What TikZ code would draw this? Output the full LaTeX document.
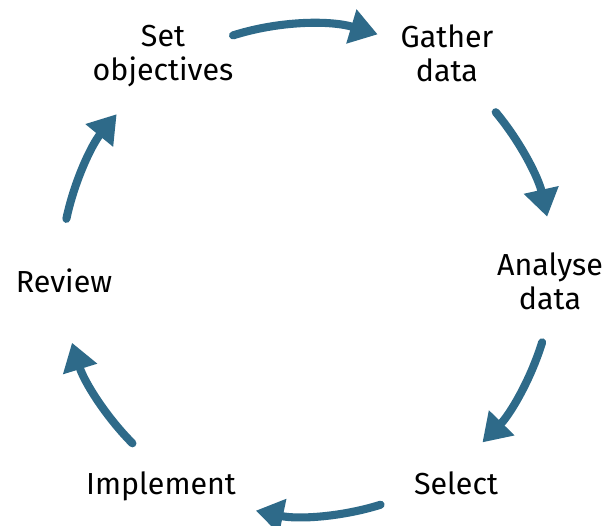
\documentclass[tikz,border=0pt]{standalone}
\usepackage{fontspec}
\setmainfont{Fira Sans}
\usepackage{tikz}
\usetikzlibrary{positioning}
\usetikzlibrary{arrows.meta}
\usetikzlibrary{calc}

\definecolor{cycleblue}{RGB}{46,106,137}

\begin{document}
\begin{tikzpicture}[auto,
    step label/.style={align=center, font=\fontsize{17.3}{19.4}\selectfont},
    cycle arrow/.style={line width=4.6pt, line cap=round, cycleblue,
        -{Triangle[length=0.55cm, width=0.68cm]}}]

    \useasboundingbox (-6.14,-5.12) rectangle (6.02,5.40);

	\def\r{4.92};

%labels
    \foreach \x/\y/\name/\txt in { -2.88/4.28/setobj/{Set\\objectives}, 2.80/4.33/gather/{Gather\\data}, 4.86/-0.22/analyse/{Analyse\\data}, 2.98/-4.26/select/{Select}, -2.92/-4.33/implement/{Implement}, -4.86/-0.22/review/{Review}} {
         \node[step label] (\name) at (\x,\y) {\txt};
    }

%arrows
    \foreach \a/\b/\name in { 107.5/73.3/a1, 39.9/12.5/a2, -17.1/-44.5/a3, -72.6/-102/a4, -135.2/-162.8/a5, 168/140.7/a6} {
         \coordinate (\name) at (\a:\r);
         \draw[cycle arrow] (\name) arc[start angle=\a, end angle=\b, radius=\r];
    }

   \end{tikzpicture}
\end{document}
